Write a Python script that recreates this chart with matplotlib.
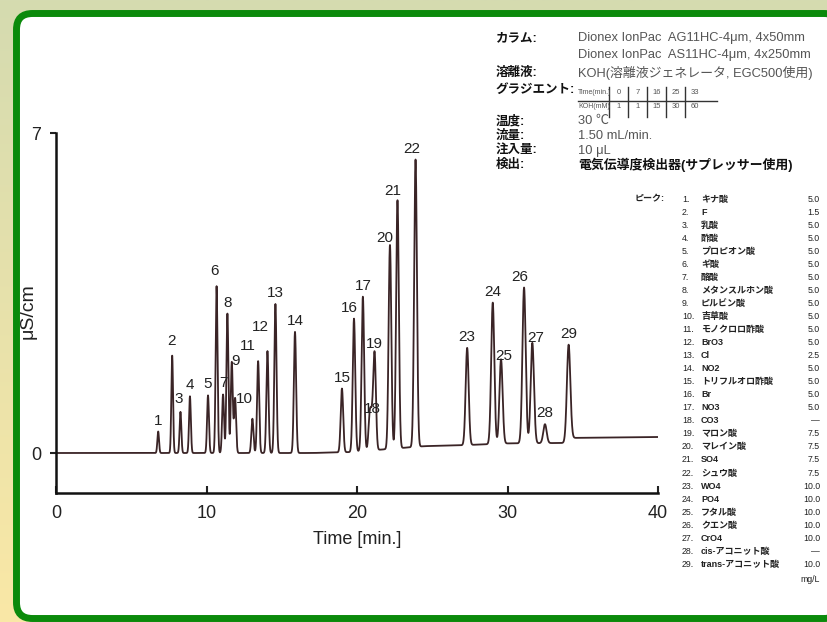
import matplotlib.pyplot as plt
import numpy as np
from matplotlib.colors import LinearSegmentedColormap
from matplotlib.patches import FancyBboxPatch

plt.rcParams['font.family'] = ['Liberation Sans', 'Noto Sans CJK JP']

# peaks: retention time [min], apex height [uS/cm]
peak_no = list(range(1, 30))
peak_time = [6.79, 7.72, 8.27, 8.90, 10.10, 10.67, 11.10, 11.39, 11.68, 11.90,
             13.43, 14.05, 14.58, 15.88, 19.00, 19.80, 20.39, 20.85, 21.17, 22.19,
             22.69, 23.89, 27.32, 29.02, 29.57, 31.10, 31.65, 32.49, 34.06]
peak_height = [0.47, 2.13, 0.90, 1.24, 1.26, 3.65, 1.28, 3.05, 1.99, 1.20,
               2.01, 2.23, 3.26, 2.65, 1.41, 2.94, 3.42, 0.82, 2.14, 4.55,
               5.53, 6.42, 2.30, 3.29, 2.05, 3.62, 2.41, 0.63, 2.37]
# small unlabelled peaks
extra_time = [13.05, 21.00]
extra_height = [0.75, 0.62]
# baseline drift
drift_time = [0, 17, 19.5, 24.5, 27, 30, 33.9, 34.3, 40]
drift_level = [0, 0, 0.02, 0.15, 0.17, 0.21, 0.22, 0.33, 0.35]

# conditions
cond_labels = ['カラム:', '', '溶離液:', 'グラジエント:', '温度:', '流量:', '注入量:', '検出:']
cond_values = ['Dionex IonPac  AG11HC-4μm, 4x50mm',
               'Dionex IonPac  AS11HC-4μm, 4x250mm',
               'KOH(溶離液ジェネレータ, EGC500使用)',
               '',
               '30 ℃',
               '1.50 mL/min.',
               '10 μL',
               '電気伝導度検出器(サプレッサー使用)']
grad_time = [0, 7, 16, 25, 33]
grad_koh = [1, 1, 15, 30, 60]

# peak list
comp_names = ['キナ酸', 'F', '乳酸', '酢酸', 'プロピオン酸', 'ギ酸', '酪酸', 'メタンスルホン酸',
              'ピルビン酸', '吉草酸', 'モノクロロ酢酸', 'BrO3', 'Cl', 'NO2', 'トリフルオロ酢酸',
              'Br', 'NO3', 'CO3', 'マロン酸', 'マレイン酸', 'SO4', 'シュウ酸', 'WO4', 'PO4',
              'フタル酸', 'クエン酸', 'CrO4', 'cis-アコニット酸', 'trans-アコニット酸']
comp_conc = ['5.0', '1.5', '5.0', '5.0', '5.0', '5.0', '5.0', '5.0', '5.0', '5.0', '5.0',
             '5.0', '2.5', '5.0', '5.0', '5.0', '5.0', '—', '7.5', '7.5', '7.5', '7.5',
             '10.0', '10.0', '10.0', '10.0', '10.0', '—', '10.0']

fig = plt.figure(figsize=(8.27, 6.22), dpi=100)

# background + green rounded frame (pixel coordinates)
bg = fig.add_axes([0, 0, 1, 1], zorder=0)
cmap = LinearSegmentedColormap.from_list('bg', ['#d5dbb0', '#fae8a6'])
bg.imshow(np.linspace(0, 1, 256)[:, None], aspect='auto', cmap=cmap,
          extent=[0, 827, 622, 0])
bg.add_patch(FancyBboxPatch((16.5, 13.5), 840 - 16.5, 618.5 - 13.5,
                            boxstyle='round,pad=0,rounding_size=16',
                            fc='white', ec='#0b8a0b', lw=5))
bg.set_xlim(0, 827)
bg.set_ylim(622, 0)
bg.axis('off')

# chromatogram
t = np.linspace(0, 40, 12000)
sig = np.interp(t, drift_time, drift_level)
for t0, h in zip(peak_time + extra_time, peak_height + extra_height):
    amp = h - np.interp(t0, drift_time, drift_level)
    s = 0.04 + 0.0022 * t0
    sig = sig + amp * np.exp(-0.5 * ((t - t0) / s) ** 2)

ax = fig.add_axes([56 / 827, 129 / 622, 602 / 827, 360 / 622], zorder=2)
ax.patch.set_alpha(0)
ax.plot(t, sig, color='#3a2426', lw=1.3)
ax.set_xlim(0, 40)
ax.set_ylim(-0.875, 7)
for sp in ['top', 'right']:
    ax.spines[sp].set_visible(False)
for sp in ['left', 'bottom']:
    ax.spines[sp].set_linewidth(1.8)
    ax.spines[sp].set_color('#111111')
ax.set_xticks([0, 10, 20, 30, 40])
ax.set_yticks([0, 7])
ax.tick_params(axis='x', direction='in', length=5, width=1.5, labelsize=13, pad=9, colors='#222222')
ax.tick_params(axis='y', direction='out', length=4.5, width=1.5, labelsize=13, pad=6, colors='#222222')
ax.set_xlabel('Time [min.]', fontsize=13, color='#222222', labelpad=6)
ax.set_ylabel('μS/cm', fontsize=14, color='#222222')
ax.yaxis.set_label_coords(-0.033, 0.506)

label_shift = {9: (4, -10), 10: (9, -12), 11: (-10, 4), 12: (-7, 13), 16: (-5, 0),
               18: (3, -4), 20: (-5, -4), 21: (-5, -2), 22: (-4, 0), 25: (3, -8),
               26: (-4, 0), 27: (3, -6), 2: (-1, 4), 6: (-2, 4), 3: (-2, 2)}
for n, t0, h in zip(peak_no, peak_time, peak_height):
    dx, dy = label_shift.get(n, (0, 0))
    ax.annotate(str(n), (t0, h), xytext=(dx, 4 + dy), textcoords='offset pixels',
                ha='center', va='bottom', fontsize=11, color='#222222')

# conditions block
cond_y = [38, 55, 73, 90, 121, 136, 151, 165]
for lab, val, y in zip(cond_labels, cond_values, cond_y):
    bg.text(496, y, lab, fontsize=9, fontweight='bold', va='center', color='#111111')
    bold = val.startswith('電気')
    bg.text(578, y, val, fontsize=9.3, va='center',
            color='#111111' if bold else '#555555',
            fontweight='bold' if bold else 'normal')

# gradient table
col_x = [609, 628, 647, 666, 685]
bg.text(578, 92, 'Time(min.)', fontsize=5, va='center', color='#555555')
bg.text(578, 107, 'KOH(mM)', fontsize=5, va='center', color='#555555')
bg.plot([578, 717], [100.5, 100.5], color='#333333', lw=1)
for x, tm, k in zip(col_x, grad_time, grad_koh):
    bg.plot([x, x], [87, 117], color='#333333', lw=1)
    bg.text(x + 10, 92, str(tm), fontsize=5.5, ha='center', va='center', color='#555555')
    bg.text(x + 10, 107, str(k), fontsize=5.5, ha='center', va='center', color='#555555')

# peak list
bg.text(635, 199, 'ピーク:', fontsize=6.5, fontweight='bold', va='center', color='#222222')
for i, (name, conc) in enumerate(zip(comp_names, comp_conc)):
    y = 199 + i * 13.05
    bg.text(682, y, f'{i + 1}.', fontsize=6.3, va='center', color='#222222')
    bg.text(701, y, name, fontsize=6.5, fontweight='bold', va='center', color='#222222')
    bg.text(820, y, conc, fontsize=6.3, ha='right', va='center', color='#222222')
bg.text(820, 580, 'mg/L', fontsize=6.3, ha='right', va='center', color='#222222')

fig.savefig('out.png', dpi=100)
